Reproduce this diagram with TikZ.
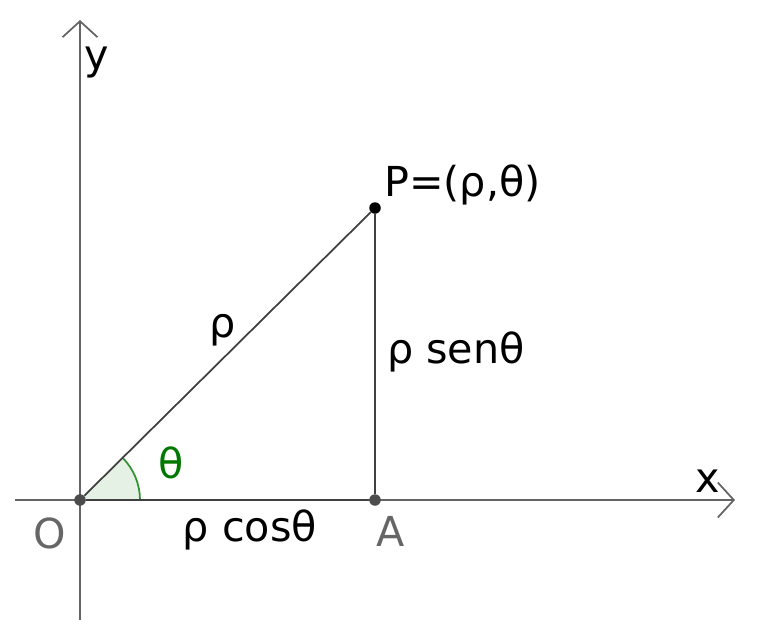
\documentclass[tikz,border=0pt]{standalone}
\usepackage{fontspec}
\setmainfont{DejaVu Sans}
\usetikzlibrary{arrows.meta}
\definecolor{axisgray}{RGB}{100,100,100}
\definecolor{anglegreen}{RGB}{0,120,0}
\tikzset{
  axis/.style={draw=axisgray,line width=1pt,-{Straight Barb[length=3.2mm,width=7mm]}},
  seg/.style={draw=black!75,line width=1pt},
  pt/.style={circle,fill=#1,inner sep=0pt,minimum size=2.3mm},
  pt/.default=black!70,
  lbl/.style={font=\fontsize{23.5}{26}\selectfont},
  every node/.style={lbl}
}
\begin{document}
\begin{tikzpicture}[x=0.02cm,y=-0.02cm]
\useasboundingbox (0,0) rectangle (777,626);
% axes
\coordinate (xl) at (15,500);
\coordinate (xr) at (735,500);
\coordinate (yb) at (80,620);
\coordinate (yt) at (80,20);
\draw[axis] (xl) -- (xr);
\draw[axis] (yb) -- (yt);
\node at (708,481) {x};
\node at (97,62) {y};

% angle
\fill[anglegreen!10] (80,500) -- (140,500) arc[start angle=0,end angle=-44.7,radius=60] -- cycle;
\draw[anglegreen!80,line width=1pt] (140,500) arc[start angle=0,end angle=-44.7,radius=60];
\node[text=anglegreen] (th) at (171,463) {θ};

% points
\node[pt] (O) at (80,500) {};
\node[pt] (A) at (375,500) {};
\node[pt=black] (P) at (375,208) {};

% segments
\draw[seg] (O) -- (P);
\draw[seg] (P) -- (A);
\draw[seg] (O) -- (A);

% labels
\node[text=black!60] at (50,533) {O};
\node[text=black!60] at (391,531) {A};
\node[anchor=west] at (378,185) {P=(ρ,θ)};
\node at (223,330) {ρ};
\node at (456,352) {ρ senθ};
\node at (250,530) {ρ cosθ};
\end{tikzpicture}
\end{document}
